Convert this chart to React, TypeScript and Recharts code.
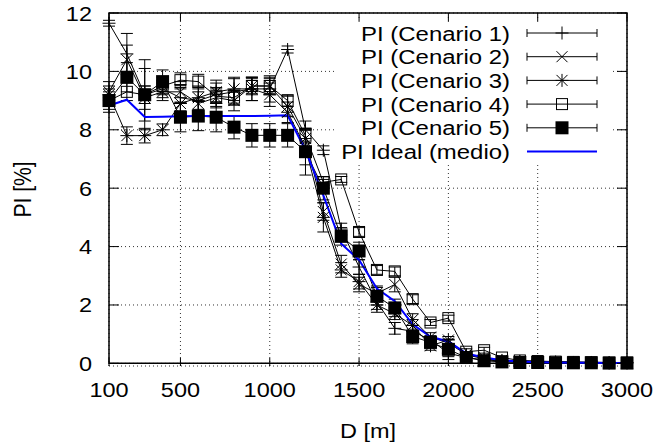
import { LineChart, Line, XAxis, YAxis, CartesianGrid, ErrorBar, Legend, ReferenceArea, Label } from 'recharts'

const distances = [100, 200, 300, 400, 500, 600, 700, 800, 900, 1000, 1100, 1200, 1300, 1400, 1500, 1600, 1700, 1800, 1900, 2000, 2100, 2200, 2300, 2400, 2500, 2600, 2700, 2800, 2900, 3000]

const pi1 = [11.65, 10.6, 9.2, 9.4, 9.1, 9.0, 9.2, 9.3, 9.4, 9.4, 10.75, 8.0, 7.3, 4.6, 3.3, 2.1, 1.2, 1.1, 0.8, 0.35, 0.2, 0.12, 0.08, 0.06, 0.05, 0.04, 0.03, 0.03, 0.02, 0.02]
const err1 = [0.1, 0.7, 1.2, 0.3, 0.45, 0.45, 0.4, 0.45, 0.4, 0.45, 0.12, 0.3, 0.15, 0.2, 0.25, 0.25, 0.2, 0.2, 0.15, 0.12, 0.1, 0.08, 0.06, 0.05, 0.05, 0.04, 0.04, 0.04, 0.04, 0.03]

const pi2 = [9.3, 10.4, 9.1, 9.3, 9.3, 8.9, 9.1, 9.0, 9.5, 9.5, 8.8, 7.7, 5.2, 3.4, 2.7, 2.4, 2.7, 1.5, 0.9, 0.7, 0.3, 0.2, 0.1, 0.08, 0.06, 0.05, 0.04, 0.03, 0.03, 0.02]
const err2 = [0.35, 0.5, 0.4, 0.3, 0.35, 0.4, 0.35, 0.35, 0.3, 0.3, 0.35, 0.35, 0.3, 0.3, 0.25, 0.25, 0.25, 0.2, 0.15, 0.12, 0.1, 0.08, 0.06, 0.05, 0.04, 0.04, 0.03, 0.03, 0.03, 0.03]

const pi3 = [9.2, 7.8, 7.8, 8.0, 8.9, 9.1, 9.3, 9.4, 9.4, 9.2, 8.6, 7.4, 5.0, 3.2, 2.8, 2.0, 1.7, 1.3, 0.6, 0.8, 0.3, 0.15, 0.1, 0.07, 0.05, 0.04, 0.03, 0.03, 0.02, 0.02]
const err3 = [0.3, 0.3, 0.25, 0.2, 0.5, 0.4, 0.4, 0.4, 0.4, 0.4, 0.35, 0.6, 0.5, 0.25, 0.25, 0.25, 0.2, 0.2, 0.15, 0.12, 0.1, 0.08, 0.06, 0.05, 0.04, 0.04, 0.03, 0.03, 0.03, 0.03]

const pi4 = [9.0, 9.3, 9.2, 9.5, 9.7, 9.65, 9.15, 9.1, 9.5, 9.5, 9.0, 7.8, 6.2, 6.3, 4.5, 3.2, 3.15, 2.2, 1.4, 1.55, 0.4, 0.45, 0.2, 0.1, 0.08, 0.06, 0.05, 0.04, 0.03, 0.03]
const err4 = [0.3, 0.3, 0.3, 0.3, 0.25, 0.25, 0.25, 0.25, 0.25, 0.25, 0.2, 0.25, 0.1, 0.1, 0.15, 0.15, 0.15, 0.15, 0.1, 0.1, 0.1, 0.1, 0.06, 0.05, 0.04, 0.04, 0.03, 0.03, 0.03, 0.03]

const pi5 = [9.0, 9.8, 9.2, 9.65, 8.43, 8.47, 8.43, 8.09, 7.81, 7.81, 7.81, 7.25, 6.0, 4.35, 3.85, 2.3, 1.9, 0.92, 0.72, 0.48, 0.2, 0.09, 0.05, 0.03, 0.03, 0.02, 0.02, 0.02, 0.01, 0.01]
const err5 = [0.4, 0.5, 0.9, 0.4, 0.5, 0.5, 0.5, 0.4, 0.4, 0.4, 0.4, 0.8, 0.4, 0.3, 0.3, 0.3, 0.3, 0.25, 0.2, 0.35, 0.15, 0.1, 0.08, 0.08, 0.1, 0.1, 0.08, 0.08, 0.1, 0.05]

const piIdeal = [8.83, 9.03, 8.44, 8.45, 8.46, 8.47, 8.47, 8.47, 8.47, 8.48, 8.5, 7.3, 5.75, 4.1, 3.54, 2.56, 2.13, 1.34, 0.91, 0.75, 0.34, 0.2, 0.11, 0.06, 0.04, 0.03, 0.02, 0.02, 0.01, 0.01]

const xTicks = [100, 500, 1000, 1500, 2000, 2500, 3000]
const yTicks = [0, 2, 4, 6, 8, 10, 12]

const legendNames = ['PI (Cenario 1)', 'PI (Cenario 2)', 'PI (Cenario 3)', 'PI (Cenario 4)', 'PI (Cenario 5)', 'PI Ideal (medio)']

const data = distances.map((d, i) => ({
  d,
  s1: pi1[i], e1: err1[i],
  s2: pi2[i], e2: err2[i],
  s3: pi3[i], e3: err3[i],
  s4: pi4[i], e4: err4[i],
  s5: pi5[i], e5: err5[i],
  ideal: piIdeal[i],
}))

// layout
const W = 660
const H = 443
const PLOT_L = 109
const PLOT_R = 627
const PLOT_T = 13
const PLOT_B = 366
const FONT = '"Liberation Sans", Arial, sans-serif'
const BLUE = '#0000ff'

type Shape = 'plus' | 'cross' | 'star' | 'box' | 'boxFill'

function Marker({ shape, cx, cy }: { shape: Shape; cx: number; cy: number }) {
  const s = 6.5
  const d = 5.5
  if (shape === 'plus') {
    return <path d={`M${cx - s},${cy}H${cx + s}M${cx},${cy - s}V${cy + s}`} stroke="#000" strokeWidth={1} fill="none" />
  }
  if (shape === 'cross') {
    return <path d={`M${cx - d},${cy - d}L${cx + d},${cy + d}M${cx - d},${cy + d}L${cx + d},${cy - d}`} stroke="#000" strokeWidth={1} fill="none" />
  }
  if (shape === 'star') {
    return (
      <path
        d={`M${cx - s},${cy}H${cx + s}M${cx},${cy - s}V${cy + s}M${cx - d},${cy - d}L${cx + d},${cy + d}M${cx - d},${cy + d}L${cx + d},${cy - d}`}
        stroke="#000" strokeWidth={1} fill="none"
      />
    )
  }
  if (shape === 'box') {
    return <rect x={cx - 5.5} y={cy - 5.5} width={11} height={11} stroke="#000" strokeWidth={1} fill="none" />
  }
  return <rect x={cx - 6.5} y={cy - 6.5} width={13} height={13} fill="#000" />
}

const dotFor = (shape: Shape) => (props: any) => {
  const { cx, cy, key } = props
  if (cx == null || cy == null) return <g key={key} />
  return <g key={key}><Marker shape={shape} cx={cx} cy={cy} /></g>
}

function YTick({ y, payload }: any) {
  return (
    <g>
      <line x1={PLOT_L} x2={PLOT_L + 10} y1={y} y2={y} stroke="#000" strokeWidth={1} />
      <line x1={PLOT_R - 10} x2={PLOT_R} y1={y} y2={y} stroke="#000" strokeWidth={1} />
      <text
        transform={`translate(${PLOT_L - 17},${y + 7.5}) scale(1.12,1)`}
        textAnchor="end" fontSize={21} fontFamily={FONT} fill="#000"
      >
        {payload.value}
      </text>
    </g>
  )
}

function XTick({ x, payload }: any) {
  return (
    <g>
      <line x1={x} x2={x} y1={PLOT_B} y2={PLOT_B - 8} stroke="#000" strokeWidth={1} />
      <line x1={x} x2={x} y1={PLOT_T} y2={PLOT_T + 8} stroke="#000" strokeWidth={1} />
      <text
        transform={`translate(${x},${397}) scale(1.12,1)`}
        textAnchor="middle" fontSize={21} fontFamily={FONT} fill="#000"
      >
        {payload.value}
      </text>
    </g>
  )
}

const legendShapes: (Shape | null)[] = ['plus', 'cross', 'star', 'box', 'boxFill', null]

function LegendBox() {
  const rowH = 23.7
  const textX = 175
  const x1 = 192
  const x2 = 262
  const mx = 227
  return (
    <svg width={277} height={142} style={{ display: 'block' }}>
      {legendNames.map((name, i) => {
        const y = 11 + i * rowH
        const shape = legendShapes[i]
        return (
          <g key={name}>
            <text
              transform={`translate(${textX},${y + 7.5}) scale(1.14,1)`}
              textAnchor="end" fontSize={21} fontFamily={FONT} fill="#000"
            >
              {name}
            </text>
            {shape ? (
              <g>
                <line x1={x1} x2={x2} y1={y} y2={y} stroke="#000" strokeWidth={1} />
                <line x1={x1} x2={x1} y1={y - 4} y2={y + 4} stroke="#000" strokeWidth={1} />
                <line x1={x2} x2={x2} y1={y - 4} y2={y + 4} stroke="#000" strokeWidth={1} />
                <Marker shape={shape} cx={mx} cy={y} />
              </g>
            ) : (
              <line x1={x1} x2={x2} y1={y} y2={y} stroke={BLUE} strokeWidth={2} />
            )}
          </g>
        )
      })}
    </svg>
  )
}

const series: { key: string; err: string; shape: Shape }[] = [
  { key: 's1', err: 'e1', shape: 'plus' },
  { key: 's2', err: 'e2', shape: 'cross' },
  { key: 's3', err: 'e3', shape: 'star' },
  { key: 's4', err: 'e4', shape: 'box' },
  { key: 's5', err: 'e5', shape: 'boxFill' },
]

export default function App() {
  return (
    <div style={{ position: 'absolute', left: 0, top: 0, width: W, height: H, background: '#fff' }}>
      <LineChart
        width={W}
        height={H}
        data={data}
        margin={{ top: PLOT_T, right: W - PLOT_R, bottom: 0, left: 0 }}
      >
        <CartesianGrid stroke="#333" strokeDasharray="1 3" strokeWidth={1} />
        <XAxis
          dataKey="d"
          type="number"
          domain={[100, 3000]}
          ticks={xTicks}
          height={H - PLOT_B}
          axisLine={false}
          tickLine={false}
          tick={<XTick />}
          interval={0}
        >
          <Label
            content={({ viewBox }: any) => (
              <text
                transform={`translate(${viewBox.x + viewBox.width / 2},${438}) scale(1.12,1)`}
                textAnchor="middle" fontSize={21} fontFamily={FONT} fill="#000"
              >
                D [m]
              </text>
            )}
          />
        </XAxis>
        <YAxis
          type="number"
          domain={[0, 12]}
          ticks={yTicks}
          width={PLOT_L}
          axisLine={false}
          tickLine={false}
          tick={<YTick />}
          interval={0}
        >
          <Label
            content={({ viewBox }: any) => (
              <text
                transform={`translate(${31},${viewBox.y + viewBox.height / 2}) rotate(-90) scale(1,1.12)`}
                textAnchor="middle" fontSize={21} fontFamily={FONT} fill="#000"
              >
                PI [%]
              </text>
            )}
          />
        </YAxis>
        {series.map(s => (
          <Line
            key={s.key}
            dataKey={s.key}
            type="linear"
            stroke="#000"
            strokeWidth={1}
            dot={dotFor(s.shape)}
            activeDot={false}
            legendType="none"
            isAnimationActive={false}
          >
            <ErrorBar dataKey={s.err} direction="y" width={6} stroke="#000" strokeWidth={1} isAnimationActive={false} />
          </Line>
        ))}
        <Line
          dataKey="ideal"
          type="linear"
          stroke={BLUE}
          strokeWidth={2}
          dot={false}
          activeDot={false}
          legendType="none"
          isAnimationActive={false}
        />
        <ReferenceArea x1={100} x2={3000} y1={0} y2={12} fill="none" fillOpacity={0} stroke="#000" strokeWidth={1.5} ifOverflow="visible" />
        <Legend
          layout="horizontal"
          verticalAlign="middle"
          align="center"
          content={() => <LegendBox />}
          wrapperStyle={{ left: 335, top: 22, width: 277, height: 142, background: '#fff' }}
        />
      </LineChart>
    </div>
  )
}
